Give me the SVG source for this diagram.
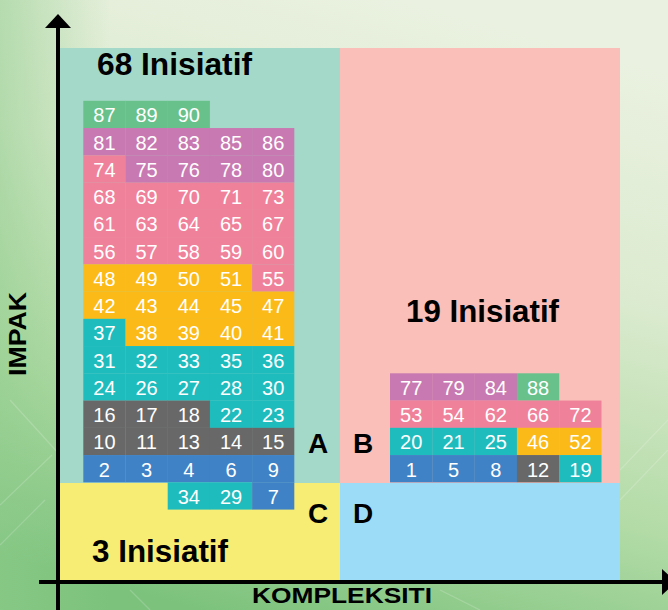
<svg xmlns="http://www.w3.org/2000/svg" width="668" height="610" viewBox="0 0 668 610">
<defs>
<linearGradient id="bg" x1="0.6" y1="0" x2="0.3" y2="1">
<stop offset="0" stop-color="#eaf1e0"/>
<stop offset="0.35" stop-color="#dcebd0"/>
<stop offset="0.7" stop-color="#b2dba6"/>
<stop offset="1" stop-color="#7cc27c"/>
</linearGradient>
<linearGradient id="lside" x1="0" y1="0" x2="1" y2="0">
<stop offset="0" stop-color="#8fcc8c" stop-opacity="0.55"/>
<stop offset="1" stop-color="#8fcc8c" stop-opacity="0"/>
</linearGradient>
<marker id="arr" viewBox="0 0 14 26" refX="0" refY="13" markerWidth="14" markerHeight="26" markerUnits="userSpaceOnUse" orient="auto">
<path d="M0,0 L14,13 L0,26 Z" fill="#000"/>
</marker>
<style>
.q{stroke:none}
.cell{stroke:none}
.g{fill:#68c18b}.p{fill:#c879b1}.k{fill:#f0819b}.o{fill:#fbba17}.t{fill:#1fbcbe}.d{fill:#686868}.b{fill:#3f83c6}
.n{font-family:"Liberation Sans",Arial,sans-serif;font-size:20px;fill:#fff;text-anchor:middle}
.big{font-family:"Liberation Sans",Arial,sans-serif;font-size:32px;font-weight:bold;fill:#000}
.let{font-family:"Liberation Sans",Arial,sans-serif;font-size:28px;font-weight:bold;fill:#000;text-anchor:middle}
.ax{font-family:"Liberation Sans",Arial,sans-serif;font-size:24px;font-weight:bold;fill:#000}
.axis{stroke:#000;stroke-width:4;fill:none}
</style>
</defs>
<rect x="0" y="0" width="668" height="610" fill="url(#bg)"/>
<rect x="0" y="0" width="110" height="610" fill="url(#lside)"/>
<g stroke="#ffffff" stroke-opacity="0.18" stroke-width="1.2" fill="none">
<path d="M0,505 L52,455"/>
<path d="M10,400 L60,455"/>
<path d="M0,545 L45,500"/>
<path d="M620,470 L668,420"/>
<path d="M620,500 L668,450"/>
<path d="M440,590 L480,610"/>
<path d="M130,590 L150,610"/>
</g>

<g id="quadA"><rect class="q" x="60" y="48" width="280" height="435" fill="#a4d9c9"/></g>
<g id="quadB"><rect class="q" x="340" y="48" width="280" height="435" fill="#f9bfb8"/></g>
<g id="quadC"><rect class="q" x="60" y="483" width="280" height="97" fill="#f7ed74"/></g>
<g id="quadD"><rect class="q" x="340" y="483" width="280" height="97" fill="#9cdcf7"/></g>

<g id="labels">
<text class="big" x="97" y="75" textLength="155" lengthAdjust="spacingAndGlyphs">68 Inisiatif</text>
<text class="big" x="406" y="322" textLength="153" lengthAdjust="spacingAndGlyphs">19 Inisiatif</text>
<text class="big" x="92" y="562" textLength="136" lengthAdjust="spacingAndGlyphs">3 Inisiatif</text>
<text class="let" x="318" y="453">A</text>
<text class="let" x="363" y="453">B</text>
<text class="let" x="318" y="523">C</text>
<text class="let" x="363" y="523">D</text>
</g>

<g id="gridA">
<g id="c87"><rect class="cell g" x="83.3" y="100.8" width="42.4" height="27.4"/><text class="n" x="104.4" y="122.3">87</text></g>
<g id="c89"><rect class="cell g" x="125.5" y="100.8" width="42.4" height="27.4"/><text class="n" x="146.6" y="122.3">89</text></g>
<g id="c90"><rect class="cell g" x="167.7" y="100.8" width="42.2" height="27.4"/><text class="n" x="188.8" y="122.3">90</text></g>

<g id="c81"><rect class="cell p" x="83.3" y="128.05" width="42.4" height="27.4"/><text class="n" x="104.4" y="149.55">81</text></g>
<g id="c82"><rect class="cell p" x="125.5" y="128.05" width="42.4" height="27.4"/><text class="n" x="146.6" y="149.55">82</text></g>
<g id="c83"><rect class="cell p" x="167.7" y="128.05" width="42.4" height="27.4"/><text class="n" x="188.8" y="149.55">83</text></g>
<g id="c85"><rect class="cell p" x="209.9" y="128.05" width="42.4" height="27.4"/><text class="n" x="231" y="149.55">85</text></g>
<g id="c86"><rect class="cell p" x="252.1" y="128.05" width="42.2" height="27.4"/><text class="n" x="273.2" y="149.55">86</text></g>

<g id="c74"><rect class="cell k" x="83.3" y="155.3" width="42.4" height="27.4"/><text class="n" x="104.4" y="176.8">74</text></g>
<g id="c75"><rect class="cell p" x="125.5" y="155.3" width="42.4" height="27.4"/><text class="n" x="146.6" y="176.8">75</text></g>
<g id="c76"><rect class="cell p" x="167.7" y="155.3" width="42.4" height="27.4"/><text class="n" x="188.8" y="176.8">76</text></g>
<g id="c78"><rect class="cell p" x="209.9" y="155.3" width="42.4" height="27.4"/><text class="n" x="231" y="176.8">78</text></g>
<g id="c80"><rect class="cell p" x="252.1" y="155.3" width="42.2" height="27.4"/><text class="n" x="273.2" y="176.8">80</text></g>

<g id="c68"><rect class="cell k" x="83.3" y="182.55" width="42.4" height="27.4"/><text class="n" x="104.4" y="204.05">68</text></g>
<g id="c69"><rect class="cell k" x="125.5" y="182.55" width="42.4" height="27.4"/><text class="n" x="146.6" y="204.05">69</text></g>
<g id="c70"><rect class="cell k" x="167.7" y="182.55" width="42.4" height="27.4"/><text class="n" x="188.8" y="204.05">70</text></g>
<g id="c71"><rect class="cell k" x="209.9" y="182.55" width="42.4" height="27.4"/><text class="n" x="231" y="204.05">71</text></g>
<g id="c73"><rect class="cell k" x="252.1" y="182.55" width="42.2" height="27.4"/><text class="n" x="273.2" y="204.05">73</text></g>

<g id="c61"><rect class="cell k" x="83.3" y="209.8" width="42.4" height="27.4"/><text class="n" x="104.4" y="231.3">61</text></g>
<g id="c63"><rect class="cell k" x="125.5" y="209.8" width="42.4" height="27.4"/><text class="n" x="146.6" y="231.3">63</text></g>
<g id="c64"><rect class="cell k" x="167.7" y="209.8" width="42.4" height="27.4"/><text class="n" x="188.8" y="231.3">64</text></g>
<g id="c65"><rect class="cell k" x="209.9" y="209.8" width="42.4" height="27.4"/><text class="n" x="231" y="231.3">65</text></g>
<g id="c67"><rect class="cell k" x="252.1" y="209.8" width="42.2" height="27.4"/><text class="n" x="273.2" y="231.3">67</text></g>

<g id="c56"><rect class="cell k" x="83.3" y="237.05" width="42.4" height="27.4"/><text class="n" x="104.4" y="258.55">56</text></g>
<g id="c57"><rect class="cell k" x="125.5" y="237.05" width="42.4" height="27.4"/><text class="n" x="146.6" y="258.55">57</text></g>
<g id="c58"><rect class="cell k" x="167.7" y="237.05" width="42.4" height="27.4"/><text class="n" x="188.8" y="258.55">58</text></g>
<g id="c59"><rect class="cell k" x="209.9" y="237.05" width="42.4" height="27.4"/><text class="n" x="231" y="258.55">59</text></g>
<g id="c60"><rect class="cell k" x="252.1" y="237.05" width="42.2" height="27.4"/><text class="n" x="273.2" y="258.55">60</text></g>

<g id="c48"><rect class="cell o" x="83.3" y="264.3" width="42.4" height="27.4"/><text class="n" x="104.4" y="285.8">48</text></g>
<g id="c49"><rect class="cell o" x="125.5" y="264.3" width="42.4" height="27.4"/><text class="n" x="146.6" y="285.8">49</text></g>
<g id="c50"><rect class="cell o" x="167.7" y="264.3" width="42.4" height="27.4"/><text class="n" x="188.8" y="285.8">50</text></g>
<g id="c51"><rect class="cell o" x="209.9" y="264.3" width="42.4" height="27.4"/><text class="n" x="231" y="285.8">51</text></g>
<g id="c55"><rect class="cell k" x="252.1" y="264.3" width="42.2" height="27.4"/><text class="n" x="273.2" y="285.8">55</text></g>

<g id="c42"><rect class="cell o" x="83.3" y="291.55" width="42.4" height="27.4"/><text class="n" x="104.4" y="313.05">42</text></g>
<g id="c43"><rect class="cell o" x="125.5" y="291.55" width="42.4" height="27.4"/><text class="n" x="146.6" y="313.05">43</text></g>
<g id="c44"><rect class="cell o" x="167.7" y="291.55" width="42.4" height="27.4"/><text class="n" x="188.8" y="313.05">44</text></g>
<g id="c45"><rect class="cell o" x="209.9" y="291.55" width="42.4" height="27.4"/><text class="n" x="231" y="313.05">45</text></g>
<g id="c47"><rect class="cell o" x="252.1" y="291.55" width="42.2" height="27.4"/><text class="n" x="273.2" y="313.05">47</text></g>

<g id="c37"><rect class="cell t" x="83.3" y="318.8" width="42.4" height="27.4"/><text class="n" x="104.4" y="340.3">37</text></g>
<g id="c38"><rect class="cell o" x="125.5" y="318.8" width="42.4" height="27.4"/><text class="n" x="146.6" y="340.3">38</text></g>
<g id="c39"><rect class="cell o" x="167.7" y="318.8" width="42.4" height="27.4"/><text class="n" x="188.8" y="340.3">39</text></g>
<g id="c40"><rect class="cell o" x="209.9" y="318.8" width="42.4" height="27.4"/><text class="n" x="231" y="340.3">40</text></g>
<g id="c41"><rect class="cell o" x="252.1" y="318.8" width="42.2" height="27.4"/><text class="n" x="273.2" y="340.3">41</text></g>

<g id="c31"><rect class="cell t" x="83.3" y="346.05" width="42.4" height="27.4"/><text class="n" x="104.4" y="367.55">31</text></g>
<g id="c32"><rect class="cell t" x="125.5" y="346.05" width="42.4" height="27.4"/><text class="n" x="146.6" y="367.55">32</text></g>
<g id="c33"><rect class="cell t" x="167.7" y="346.05" width="42.4" height="27.4"/><text class="n" x="188.8" y="367.55">33</text></g>
<g id="c35"><rect class="cell t" x="209.9" y="346.05" width="42.4" height="27.4"/><text class="n" x="231" y="367.55">35</text></g>
<g id="c36"><rect class="cell t" x="252.1" y="346.05" width="42.2" height="27.4"/><text class="n" x="273.2" y="367.55">36</text></g>

<g id="c24"><rect class="cell t" x="83.3" y="373.3" width="42.4" height="27.4"/><text class="n" x="104.4" y="394.8">24</text></g>
<g id="c26"><rect class="cell t" x="125.5" y="373.3" width="42.4" height="27.4"/><text class="n" x="146.6" y="394.8">26</text></g>
<g id="c27"><rect class="cell t" x="167.7" y="373.3" width="42.4" height="27.4"/><text class="n" x="188.8" y="394.8">27</text></g>
<g id="c28"><rect class="cell t" x="209.9" y="373.3" width="42.4" height="27.4"/><text class="n" x="231" y="394.8">28</text></g>
<g id="c30"><rect class="cell t" x="252.1" y="373.3" width="42.2" height="27.4"/><text class="n" x="273.2" y="394.8">30</text></g>

<g id="c16"><rect class="cell d" x="83.3" y="400.55" width="42.4" height="27.4"/><text class="n" x="104.4" y="422.05">16</text></g>
<g id="c17"><rect class="cell d" x="125.5" y="400.55" width="42.4" height="27.4"/><text class="n" x="146.6" y="422.05">17</text></g>
<g id="c18"><rect class="cell d" x="167.7" y="400.55" width="42.4" height="27.4"/><text class="n" x="188.8" y="422.05">18</text></g>
<g id="c22"><rect class="cell t" x="209.9" y="400.55" width="42.4" height="27.4"/><text class="n" x="231" y="422.05">22</text></g>
<g id="c23"><rect class="cell t" x="252.1" y="400.55" width="42.2" height="27.4"/><text class="n" x="273.2" y="422.05">23</text></g>

<g id="c10"><rect class="cell d" x="83.3" y="427.8" width="42.4" height="27.4"/><text class="n" x="104.4" y="449.3">10</text></g>
<g id="c11"><rect class="cell d" x="125.5" y="427.8" width="42.4" height="27.4"/><text class="n" x="146.6" y="449.3">11</text></g>
<g id="c13"><rect class="cell d" x="167.7" y="427.8" width="42.4" height="27.4"/><text class="n" x="188.8" y="449.3">13</text></g>
<g id="c14"><rect class="cell d" x="209.9" y="427.8" width="42.4" height="27.4"/><text class="n" x="231" y="449.3">14</text></g>
<g id="c15"><rect class="cell d" x="252.1" y="427.8" width="42.2" height="27.4"/><text class="n" x="273.2" y="449.3">15</text></g>

<g id="c2"><rect class="cell b" x="83.3" y="455.05" width="42.4" height="27.3"/><text class="n" x="104.4" y="476.55">2</text></g>
<g id="c3"><rect class="cell b" x="125.5" y="455.05" width="42.4" height="27.3"/><text class="n" x="146.6" y="476.55">3</text></g>
<g id="c4"><rect class="cell b" x="167.7" y="455.05" width="42.4" height="27.3"/><text class="n" x="188.8" y="476.55">4</text></g>
<g id="c6"><rect class="cell b" x="209.9" y="455.05" width="42.4" height="27.3"/><text class="n" x="231" y="476.55">6</text></g>
<g id="c9"><rect class="cell b" x="252.1" y="455.05" width="42.2" height="27.4"/><text class="n" x="273.2" y="476.55">9</text></g>

<g id="c34"><rect class="cell t" x="167.7" y="482.3" width="42.4" height="27.3"/><text class="n" x="188.8" y="503.8">34</text></g>
<g id="c29"><rect class="cell t" x="209.9" y="482.3" width="42.4" height="27.3"/><text class="n" x="231" y="503.8">29</text></g>
<g id="c7"><rect class="cell b" x="252.1" y="482.3" width="42.2" height="27.3"/><text class="n" x="273.2" y="503.8">7</text></g>
</g>

<g id="gridB">
<g id="c77"><rect class="cell p" x="390" y="373.3" width="42.5" height="27.4"/><text class="n" x="411.2" y="394.8">77</text></g>
<g id="c79"><rect class="cell p" x="432.3" y="373.3" width="42.5" height="27.4"/><text class="n" x="453.5" y="394.8">79</text></g>
<g id="c84"><rect class="cell p" x="474.6" y="373.3" width="42.5" height="27.4"/><text class="n" x="495.8" y="394.8">84</text></g>
<g id="c88"><rect class="cell g" x="516.9" y="373.3" width="42.3" height="27.4"/><text class="n" x="538.1" y="394.8">88</text></g>

<g id="c53"><rect class="cell k" x="390" y="400.55" width="42.5" height="27.4"/><text class="n" x="411.2" y="422.05">53</text></g>
<g id="c54"><rect class="cell k" x="432.3" y="400.55" width="42.5" height="27.4"/><text class="n" x="453.5" y="422.05">54</text></g>
<g id="c62"><rect class="cell k" x="474.6" y="400.55" width="42.5" height="27.4"/><text class="n" x="495.8" y="422.05">62</text></g>
<g id="c66"><rect class="cell k" x="516.9" y="400.55" width="42.5" height="27.4"/><text class="n" x="538.1" y="422.05">66</text></g>
<g id="c72"><rect class="cell k" x="559.2" y="400.55" width="42.3" height="27.4"/><text class="n" x="580.4" y="422.05">72</text></g>

<g id="c20"><rect class="cell t" x="390" y="427.8" width="42.5" height="27.4"/><text class="n" x="411.2" y="449.3">20</text></g>
<g id="c21"><rect class="cell t" x="432.3" y="427.8" width="42.5" height="27.4"/><text class="n" x="453.5" y="449.3">21</text></g>
<g id="c25"><rect class="cell t" x="474.6" y="427.8" width="42.5" height="27.4"/><text class="n" x="495.8" y="449.3">25</text></g>
<g id="c46"><rect class="cell o" x="516.9" y="427.8" width="42.5" height="27.4"/><text class="n" x="538.1" y="449.3">46</text></g>
<g id="c52"><rect class="cell o" x="559.2" y="427.8" width="42.3" height="27.4"/><text class="n" x="580.4" y="449.3">52</text></g>

<g id="c1"><rect class="cell b" x="390" y="455.05" width="42.5" height="27.3"/><text class="n" x="411.2" y="476.55">1</text></g>
<g id="c5"><rect class="cell b" x="432.3" y="455.05" width="42.5" height="27.3"/><text class="n" x="453.5" y="476.55">5</text></g>
<g id="c8"><rect class="cell b" x="474.6" y="455.05" width="42.5" height="27.3"/><text class="n" x="495.8" y="476.55">8</text></g>
<g id="c12"><rect class="cell d" x="516.9" y="455.05" width="42.5" height="27.3"/><text class="n" x="538.1" y="476.55">12</text></g>
<g id="c19"><rect class="cell t" x="559.2" y="455.05" width="42.3" height="27.3"/><text class="n" x="580.4" y="476.55">19</text></g>
</g>

<g id="axes">
<line class="axis" x1="58" y1="610" x2="58" y2="28" marker-end="url(#arr)"/>
<line class="axis" x1="39" y1="582" x2="662" y2="582" marker-end="url(#arr)"/>
</g>
<g id="axis-labels">
<text class="ax" x="252" y="603" font-size="22" style="font-size:22px" textLength="180" lengthAdjust="spacingAndGlyphs">KOMPLEKSITI</text>
<text class="ax" transform="translate(26,376) rotate(-90)" x="0" y="0" textLength="84" lengthAdjust="spacingAndGlyphs">IMPAK</text>
</g>
</svg>
